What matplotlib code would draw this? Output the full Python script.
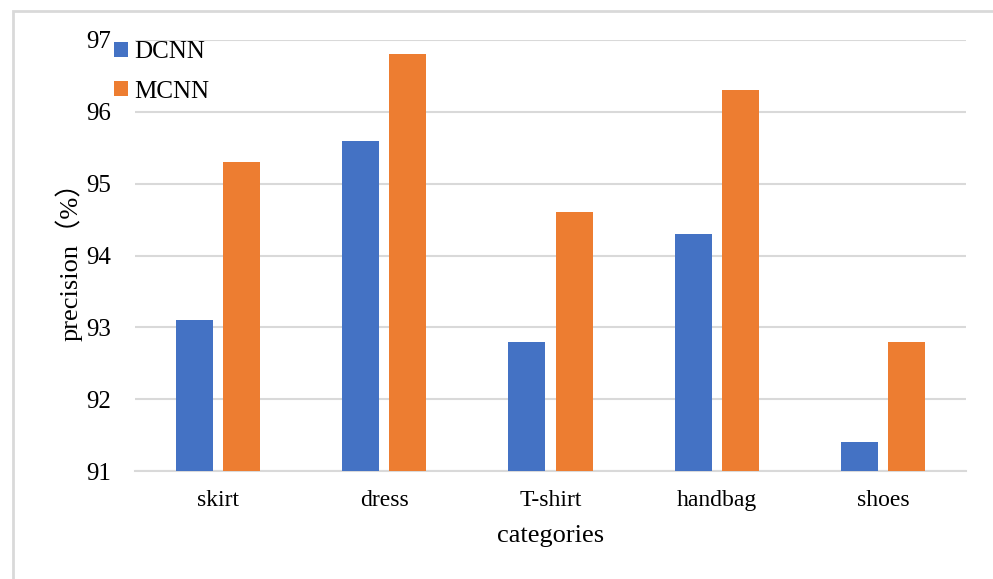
import numpy as np
import matplotlib.pyplot as plt
from matplotlib.patches import Rectangle

# precision per category for the two networks
categories = ['skirt', 'dress', 'T-shirt', 'handbag', 'shoes']
dcnn = [93.1, 95.6, 92.8, 94.3, 91.4]
mcnn = [95.3, 96.8, 94.6, 96.3, 92.8]
yticks = [91, 92, 93, 94, 95, 96, 97]

plt.rcParams['font.family'] = ['Liberation Serif', 'Noto Sans CJK SC']

fig = plt.figure(figsize=(9.93, 5.79), dpi=100)
ax = fig.add_axes([135 / 993, 1 - 471 / 579, 831 / 993, 431 / 579])

# chart area border (open on right and bottom)
fig.patches.append(Rectangle((13 / 993, -0.1), 1.2, 1 - 11 / 579 + 0.1,
                             transform=fig.transFigure, fill=False,
                             edgecolor='#D9D9D9', linewidth=2, zorder=0))

x = np.arange(len(categories))
w = 0.223
ax.bar(x - 0.1416, dcnn, w, color='#4472C4', label='DCNN', zorder=3)
ax.bar(x + 0.1416, mcnn, w, color='#ED7D31', label='MCNN', zorder=3)

ax.set_ylim(91, 97)
ax.set_xlim(-0.5, len(categories) - 0.5)
ax.set_yticks(yticks)
ax.set_yticklabels([str(v) for v in yticks], fontfamily='Liberation Serif')
ax.set_xticks(x)
ax.set_xticklabels(categories, fontfamily='Liberation Serif')
ax.tick_params(axis='x', length=0, labelsize=17, pad=14)
ax.tick_params(axis='y', length=0, labelsize=18, pad=17)
ax.grid(axis='y', color='#D9D9D9', linewidth=1.5, zorder=0)
for s in ['top', 'right', 'left']:
    ax.spines[s].set_visible(False)
ax.spines['bottom'].set_color('#D9D9D9')
ax.spines['bottom'].set_linewidth(1.5)

ax.set_xlabel('categories', fontsize=19, labelpad=10)
ax.set_ylabel('precision\uff08%\uff09', fontsize=19, labelpad=3)

fig.legend(loc='upper left', bbox_to_anchor=(114 / 993, 1 - 41 / 579),
           frameon=False, fontsize=18, handlelength=0.55, handleheight=0.55,
           handletextpad=0.25, labelspacing=0.7, borderaxespad=0, borderpad=0)

fig.savefig('out.png', dpi=100)
